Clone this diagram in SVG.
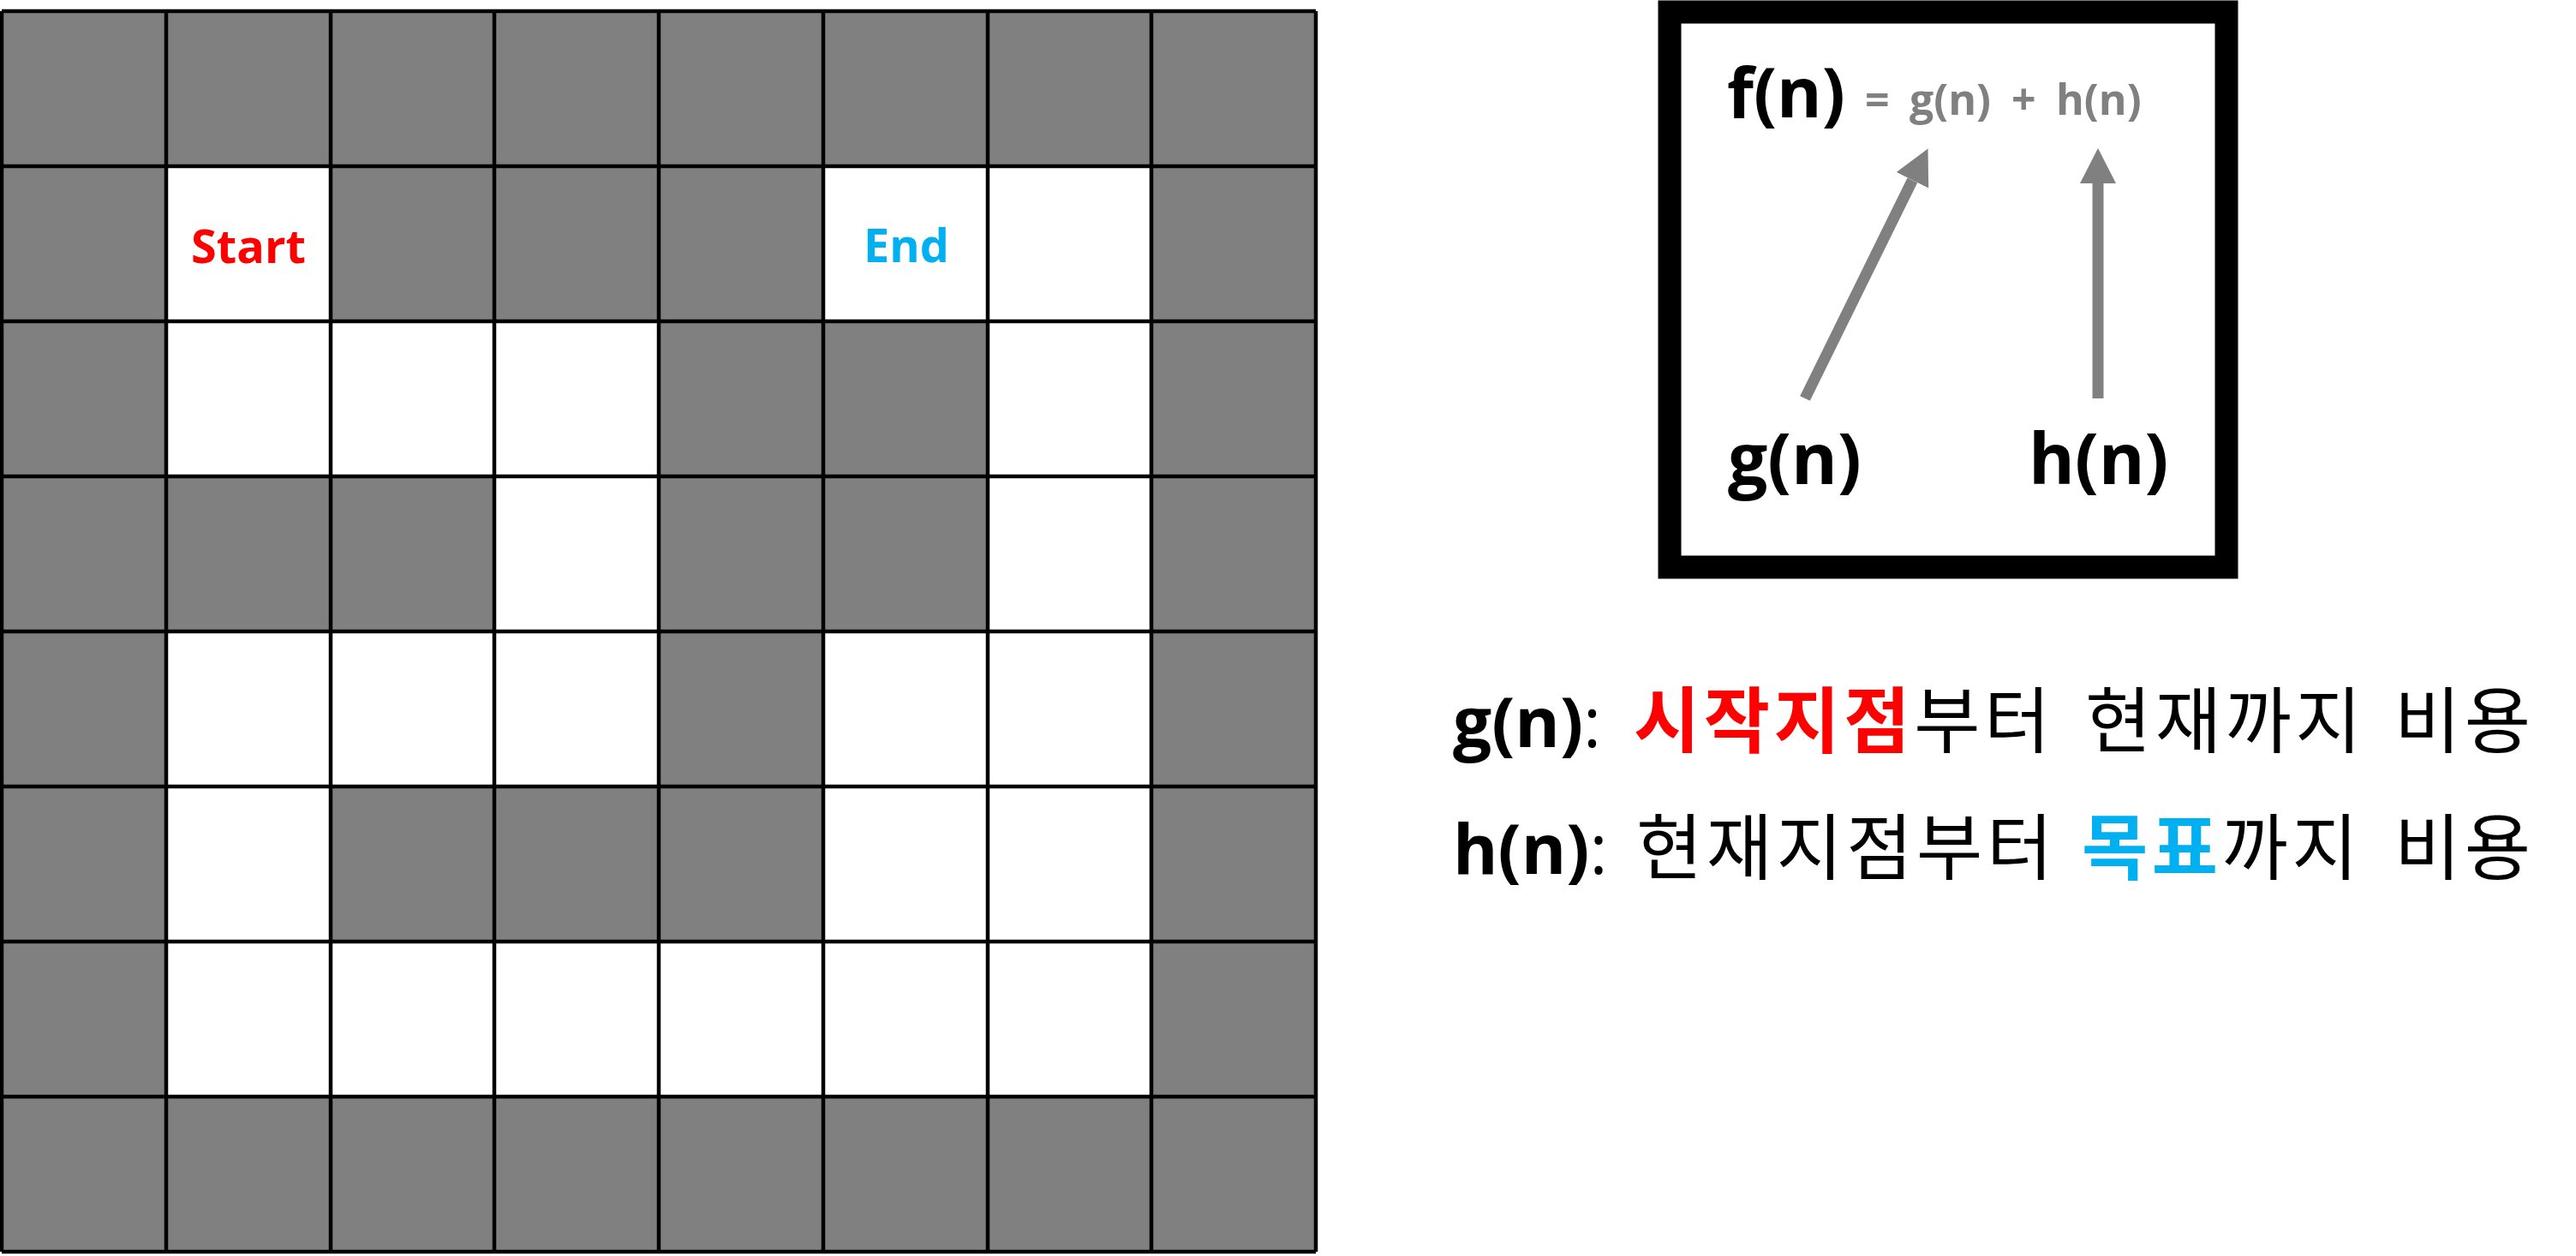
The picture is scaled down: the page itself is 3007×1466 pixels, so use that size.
<svg xmlns="http://www.w3.org/2000/svg" width="3007" height="1466" viewBox="0 0 3007 1466">
<defs>
<style>
.wall{fill:#808080}
.open{fill:#ffffff}
.gridline{stroke:#000;stroke-width:4.5;fill:none}
.lat{font-family:"Open Sans","Noto Sans CJK KR",sans-serif;font-weight:700}
.kr{font-family:"Noto Sans CJK KR",sans-serif}
.ks{letter-spacing:4.5px}
.arrow{stroke:#808080;stroke-width:13;fill:none}
</style>
<marker id="head" markerUnits="userSpaceOnUse" markerWidth="42" markerHeight="42" viewBox="0 -21 42 42" refX="0" refY="0" orient="auto">
<path d="M0,-21 L41,0 L0,21 Z" fill="#808080"/>
</marker>
</defs>
<rect width="3007" height="1466" fill="#ffffff"/>
<g id="maze">
<rect class="wall" x="2" y="13" width="1534" height="1448"/>
<rect class="open" x="194" y="194" width="192" height="181"/>
<rect class="open" x="961" y="194" width="383" height="181"/>
<rect class="open" x="194" y="375" width="575" height="181"/>
<rect class="open" x="1153" y="375" width="191" height="181"/>
<rect class="open" x="577" y="556" width="192" height="181"/>
<rect class="open" x="1153" y="556" width="191" height="181"/>
<rect class="open" x="194" y="737" width="575" height="181"/>
<rect class="open" x="961" y="737" width="383" height="181"/>
<rect class="open" x="194" y="918" width="192" height="181"/>
<rect class="open" x="961" y="918" width="383" height="181"/>
<rect class="open" x="194" y="1099" width="1150" height="181"/>
<path class="gridline" d="M2,13V1461M194,13V1461M386,13V1461M577,13V1461M769,13V1461M961,13V1461M1153,13V1461M1344,13V1461M1536,13V1461M2,13H1536M2,194H1536M2,375H1536M2,556H1536M2,737H1536M2,918H1536M2,1099H1536M2,1280H1536M2,1461H1536"/>
</g>
<g id="start-label"><text class="lat" x="290" y="307" font-size="54" fill="#FF0000" text-anchor="middle">Start</text></g>
<g id="end-label"><text class="lat" x="1058" y="306" font-size="54" fill="#00B0F0" text-anchor="middle">End</text></g>
<g id="formula-box">
<rect x="1949" y="14" width="650" height="648" fill="#ffffff" stroke="#000" stroke-width="27"/>
<text class="lat" x="2016" y="137" font-size="80" fill="#000">f(n)</text>
<text class="lat" font-size="50" fill="#808080" y="134"><tspan x="2177">=</tspan><tspan x="2229">g(n)</tspan><tspan x="2348">+</tspan><tspan x="2400">h(n)</tspan></text>
</g>
<g id="g-node"><text class="lat" x="2017" y="565" font-size="82" fill="#000">g(n)</text></g>
<g id="h-node"><text class="lat" x="2368" y="565" font-size="82" fill="#000">h(n)</text></g>
<g id="connectors">
<line class="arrow" x1="2107" y1="465" x2="2232.4" y2="210.3" marker-end="url(#head)"/>
<line class="arrow" x1="2449" y1="465" x2="2449" y2="214" marker-end="url(#head)"/>
</g>
<g id="legend-g">
<text class="kr" y="872" font-size="84" fill="#000"><tspan class="lat" x="1696" font-size="80">g(n)</tspan><tspan font-family="Open Sans, sans-serif" font-size="80">:</tspan><tspan class="ks" x="1907" font-weight="700" fill="#FF0000">시작지점</tspan><tspan class="ks">부터</tspan><tspan class="ks" x="2434">현재까지</tspan><tspan class="ks" x="2795">비용</tspan></text>
</g>
<g id="legend-h">
<text class="kr" y="1020" font-size="84" fill="#000"><tspan class="lat" x="1696" font-size="80">h(n)</tspan><tspan font-family="Open Sans, sans-serif" font-size="80">:</tspan><tspan class="ks" x="1910">현재지점부터</tspan><tspan class="ks" x="2430" font-weight="700" fill="#00B0F0">목표</tspan><tspan class="ks">까지</tspan><tspan class="ks" x="2795">비용</tspan></text>
</g>
</svg>
